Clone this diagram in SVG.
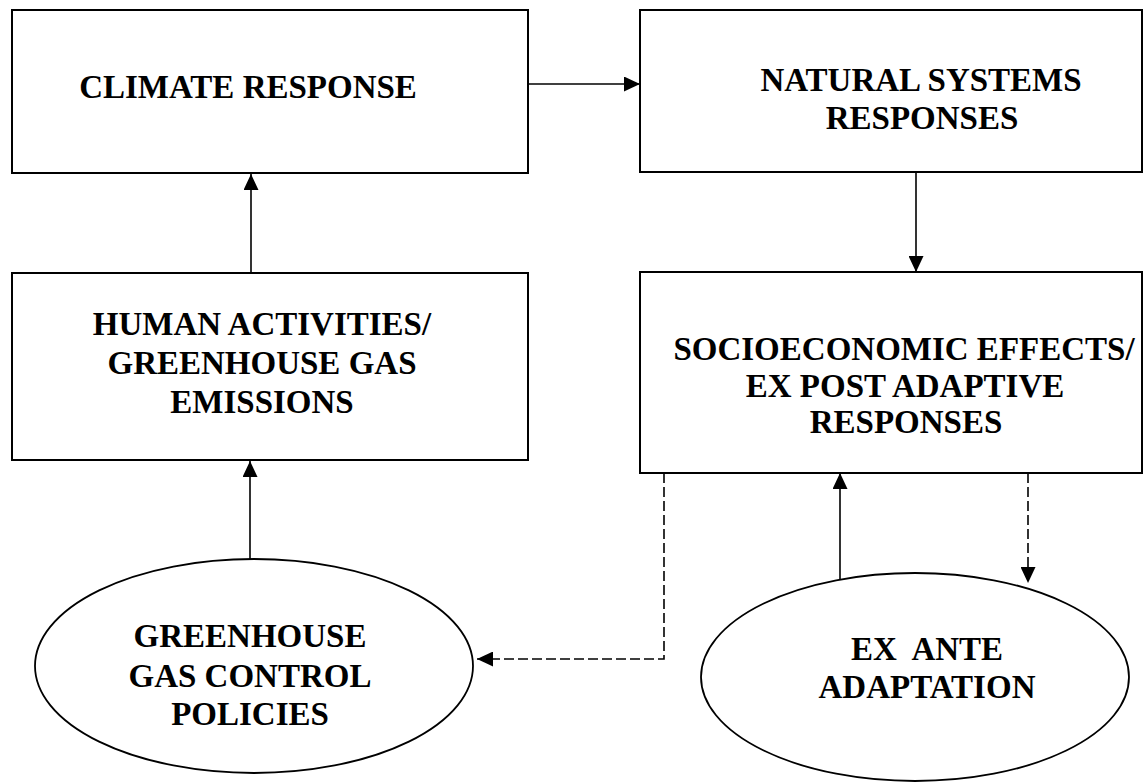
<svg xmlns="http://www.w3.org/2000/svg" width="1144" height="782" viewBox="0 0 1144 782">
<style>
.box{fill:#fff;stroke:#000;stroke-width:2}
.ell{fill:#fff;stroke:#000;stroke-width:1.8}
.t{font-family:"Liberation Serif","Times New Roman",serif;font-weight:bold;font-size:33px;fill:#000;text-anchor:middle;white-space:pre}
.ln{fill:none;stroke:#000;stroke-width:1.6}
.dash{fill:none;stroke:#000;stroke-width:1.6;stroke-dasharray:10 4}
</style>
<defs>
<marker id="ah" viewBox="0 0 16 15" refX="16" refY="7.5" markerWidth="16" markerHeight="15" markerUnits="userSpaceOnUse" orient="auto">
<path d="M0,0 L16,7.5 L0,15 Z" fill="#000"/>
</marker>
</defs>
<rect width="1144" height="782" fill="#fff"/>
<g id="connectors">
<line class="ln" x1="528" y1="84" x2="640" y2="84" marker-end="url(#ah)"/>
<line class="ln" x1="251" y1="272" x2="251" y2="174" marker-end="url(#ah)"/>
<line class="ln" x1="916" y1="173" x2="916" y2="272" marker-end="url(#ah)"/>
<line class="ln" x1="250" y1="559" x2="250" y2="461" marker-end="url(#ah)"/>
<line class="ln" x1="840" y1="584" x2="840" y2="473" marker-end="url(#ah)"/>
<polyline class="dash" points="664,473 664,659 477,659" marker-end="url(#ah)"/>
<line class="dash" x1="1028" y1="473" x2="1028" y2="583" marker-end="url(#ah)"/>
</g>
<g id="climate-response">
<rect class="box" x="12" y="10" width="516" height="163"/>
<text class="t" x="248" y="98">CLIMATE RESPONSE</text>
</g>
<g id="natural-systems">
<rect class="box" x="640" y="10" width="502" height="162"/>
<text class="t" x="921" y="91">NATURAL SYSTEMS</text>
<text class="t" x="922" y="129">RESPONSES</text>
</g>
<g id="human-activities">
<rect class="box" x="12" y="273" width="516" height="187"/>
<text class="t" x="262" y="335">HUMAN ACTIVITIES/</text>
<text class="t" x="262" y="374">GREENHOUSE GAS</text>
<text class="t" x="262" y="413">EMISSIONS</text>
</g>
<g id="socioeconomic">
<rect class="box" x="640" y="272" width="502" height="201"/>
<text class="t" x="904" y="360">SOCIOECONOMIC EFFECTS/</text>
<text class="t" x="905" y="397">EX POST ADAPTIVE</text>
<text class="t" x="906" y="433">RESPONSES</text>
</g>
<g id="ghg-policies">
<ellipse class="ell" cx="254" cy="666" rx="219" ry="107"/>
<text class="t" x="250" y="647">GREENHOUSE</text>
<text class="t" x="250" y="687">GAS CONTROL</text>
<text class="t" x="250" y="725">POLICIES</text>
</g>
<g id="ex-ante">
<ellipse class="ell" cx="915" cy="677" rx="214" ry="104"/>
<text class="t" x="927" y="660">EX  ANTE</text>
<text class="t" x="927" y="698">ADAPTATION</text>
</g>
</svg>
